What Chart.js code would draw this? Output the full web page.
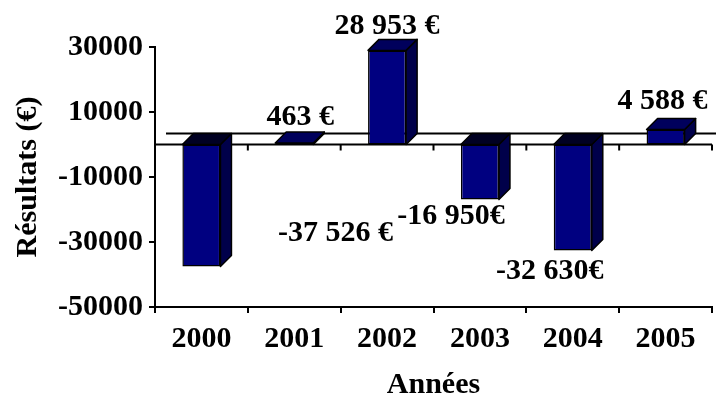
<!DOCTYPE html>
<html lang="fr">
<head>
<meta charset="UTF-8">
<title>Résultats par année</title>
<script src="https://cdn.jsdelivr.net/npm/chart.js@4"></script>
<style>
  html, body { margin: 0; padding: 0; background: #fff; }
  #wrap { width: 716px; height: 403px; }
</style>
</head>
<body>
<div id="wrap"><canvas id="chart" width="716" height="403"></canvas></div>
<script>
// data
const years = ['2000', '2001', '2002', '2003', '2004', '2005'];
const results = [-37526, 463, 28953, -16950, -32630, 4588];
const resultLabels = ['-37 526 €', '463 €', '28 953 €', '-16 950€', '-32 630€', '4 588 €'];
const yMin = -50000;
const yMax = 30000;
const yStep = 20000;

const serif = '"Liberation Serif", "Times New Roman", serif';
const boldFont = { family: serif, size: 30, weight: 'bold' };

// fake 3D: side + top faces, floor edges, value labels
const bar3d = {
  id: 'bar3d',
  beforeDatasetsDraw(chart, args, opts) {
    const { ctx, chartArea, scales: { x, y } } = chart;
    const y0 = y.getPixelForValue(0);
    const n = chart.data.labels.length;
    ctx.save();
    ctx.strokeStyle = '#000';
    ctx.lineWidth = 2;
    // back edge of the floor
    ctx.beginPath();
    ctx.moveTo(chartArea.left + opts.dx, y0 - opts.dy);
    ctx.lineTo(chart.width, y0 - opts.dy);
    ctx.stroke();
    // front edge (zero line) with category ticks
    ctx.beginPath();
    ctx.moveTo(chartArea.left, y0);
    ctx.lineTo(chartArea.right, y0);
    for (let i = 1; i <= n; i++) {
      const px = i < n ? (x.getPixelForValue(i - 1) + x.getPixelForValue(i)) / 2 : chartArea.right;
      ctx.moveTo(px, y0);
      ctx.lineTo(px, y0 + 6);
    }
    ctx.stroke();
    ctx.restore();
  },
  afterDatasetsDraw(chart, args, opts) {
    const { ctx } = chart;
    const meta = chart.getDatasetMeta(0);
    const vals = chart.data.datasets[0].data;
    ctx.save();
    ctx.strokeStyle = '#000';
    ctx.lineWidth = 1.5;
    ctx.lineJoin = 'round';
    meta.data.forEach((bar, i) => {
      const { x, y, base, width } = bar.getProps(['x', 'y', 'base', 'width'], true);
      const l = x - width / 2, r = x + width / 2;
      const top = Math.min(y, base), bot = Math.max(y, base);
      // side
      ctx.fillStyle = opts.sideColor;
      ctx.beginPath();
      ctx.moveTo(r, top);
      ctx.lineTo(r + opts.dx, top - opts.dy);
      ctx.lineTo(r + opts.dx, bot - opts.dy);
      ctx.lineTo(r, bot);
      ctx.closePath();
      ctx.fill();
      ctx.stroke();
      // top
      ctx.fillStyle = vals[i] < 0 ? opts.topNegColor : opts.topColor;
      ctx.beginPath();
      ctx.moveTo(l, top);
      ctx.lineTo(l + opts.dx, top - opts.dy);
      ctx.lineTo(r + opts.dx, top - opts.dy);
      ctx.lineTo(r, top);
      ctx.closePath();
      ctx.fill();
      ctx.stroke();
    });
    // value labels
    ctx.fillStyle = '#000';
    ctx.font = 'bold 30px ' + serif;
    ctx.textAlign = 'center';
    ctx.textBaseline = 'middle';
    meta.data.forEach((bar, i) => {
      const off = opts.labelOffsets[i];
      ctx.fillText(resultLabels[i], bar.x + off[0], bar.y + off[1]);
    });
    ctx.restore();
  }
};

new Chart(document.getElementById('chart'), {
  type: 'bar',
  data: {
    labels: years,
    datasets: [{
      label: 'Résultats',
      data: results,
      backgroundColor: '#000080',
      borderColor: '#000',
      borderWidth: 1.5,
      borderSkipped: false,
      barPercentage: 0.41,
      categoryPercentage: 1
    }]
  },
  options: {
    responsive: false,
    animation: false,
    layout: { padding: { top: 47, right: 4, left: 0, bottom: 0 } },
    plugins: {
      legend: { display: false },
      tooltip: { enabled: false },
      bar3d: {
        dx: 11,
        dy: 11,
        sideColor: '#00004a',
        topColor: '#00005c',
        topNegColor: '#000022',
        labelOffsets: [[134, -33], [6, -26], [0, -24], [-29, 17], [-23, 21], [-3, -28]]
      }
    },
    scales: {
      x: {
        grid: { offset: true, drawOnChartArea: false, drawTicks: true, tickLength: 6, color: '#000', lineWidth: 2 },
        border: { color: '#000', width: 2 },
        ticks: { color: '#000', font: boldFont, padding: 8, maxRotation: 0 },
        title: { display: true, text: 'Années', color: '#000', font: { family: serif, size: 30, weight: 'bold', lineHeight: 1 }, padding: { top: 0, bottom: 3 } },
        afterFit(s) { s.height = 96; }
      },
      y: {
        min: yMin,
        max: yMax,
        ticks: {
          stepSize: yStep,
          color: '#000',
          font: boldFont,
          padding: 6,
          callback: v => String(v)
        },
        grid: { drawOnChartArea: false, drawTicks: true, tickLength: 6, color: '#000', lineWidth: 2 },
        border: { color: '#000', width: 2 },
        title: { display: true, text: 'Résultats (€)', color: '#000', font: boldFont, padding: { top: 10, bottom: 0 } },
        afterFit(s) { s.width = 155; }
      }
    }
  },
  plugins: [bar3d]
});
</script>
</body>
</html>
